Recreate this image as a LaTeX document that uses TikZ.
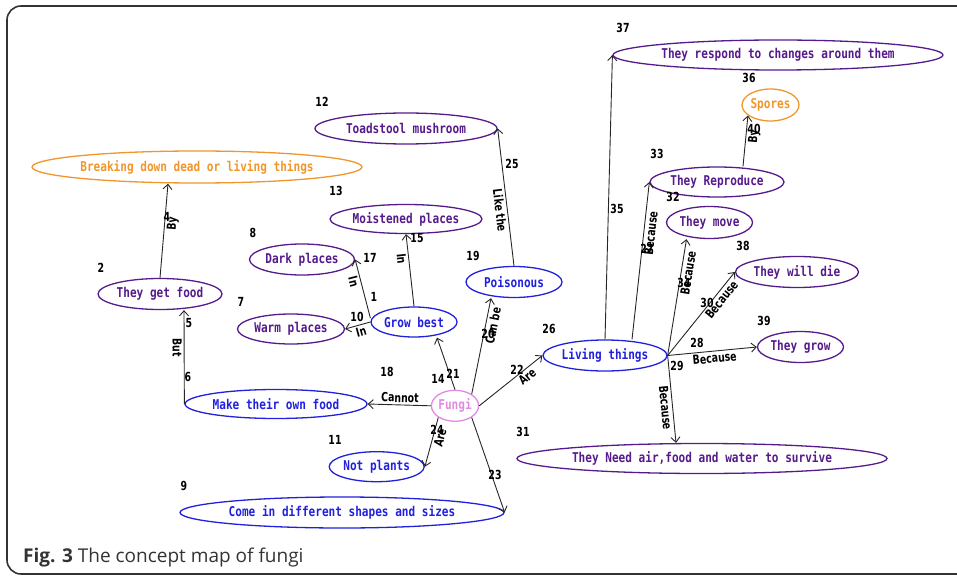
\documentclass[tikz,border=0pt]{standalone}
\usepackage{fontspec}
\usetikzlibrary{shapes.geometric,arrows.meta}
\newfontfamily\mapfont[FakeStretch=0.82]{DejaVu Sans Mono}
\newfontfamily\numfont[FakeStretch=0.75]{DejaVu Sans}
\newfontfamily\capfont{Open Sans}
\definecolor{cpurple}{HTML}{551A8B}
\definecolor{cblue}{HTML}{2020DD}
\definecolor{corange}{HTML}{F0962A}
\definecolor{cpink}{HTML}{E08AE0}
\definecolor{cframe}{HTML}{333333}
\begin{document}
\begin{tikzpicture}[x=1pt,y=-1pt,
  cnode/.style={ellipse, draw, line width=1.3pt, inner sep=0pt,
    font={\mapfont\bfseries\fontsize{13.5}{15}\selectfont}},
  pnode/.style={cnode, draw=cpurple, text=cpurple},
  bnode/.style={cnode, draw=cblue, text=cblue},
  onode/.style={cnode, draw=corange, text=corange},
  knode/.style={cnode, draw=cpink, text=cpink},
  num/.style={inner sep=0pt, text=black, font={\numfont\bfseries\fontsize{12.5}{14}\selectfont}},
  lab/.style={inner sep=2pt, sloped, text=black, font={\numfont\bfseries\fontsize{12.5}{14}\selectfont}},
  conn/.style={draw=black!85, line width=0.9pt, -{Straight Barb[length=5pt,width=9pt]}}]
\useasboundingbox (0,0) rectangle (957,577);
\begin{scope}
\clip (0,0) rectangle (957,577);
\draw[cframe, line width=1.6pt, rounded corners=14pt] (7,6) rectangle (980,574);
\end{scope}

% concept nodes
\node[onode, minimum width=327pt, minimum height=32pt] (breaking) at (197,167) {Breaking down dead or living things};
\node[pnode, minimum width=124pt, minimum height=31pt] (getfood) at (160,294) {They get food};
\node[pnode, minimum width=105pt, minimum height=31pt] (dark) at (302,259.5) {Dark places};
\node[pnode, minimum width=107pt, minimum height=30pt] (warm) at (291,329) {Warm places};
\node[pnode, minimum width=152pt, minimum height=29pt] (moist) at (406,219) {Moistened places};
\node[pnode, minimum width=182pt, minimum height=31pt] (toad) at (406,128.5) {Toadstool mushroom};
\node[bnode, minimum width=86pt, minimum height=30pt] (grow) at (414,322) {Grow best};
\node[bnode, minimum width=96pt, minimum height=31pt] (pois) at (514,282) {Poisonous};
\node[bnode, minimum width=124pt, minimum height=31pt] (living) at (605,355.5) {Living things};
\node[knode, minimum width=47pt, minimum height=31pt] (fungi) at (455,405.8) {Fungi};
\node[bnode, minimum width=182pt, minimum height=29pt] (make) at (276,404) {Make their own food};
\node[bnode, minimum width=95pt, minimum height=30pt] (notpl) at (376.7,466.7) {Not plants};
\node[bnode, minimum width=324pt, minimum height=31pt] (come) at (342,512.5) {Come in different shapes and sizes};
\node[pnode, minimum width=370pt, minimum height=30pt] (need) at (702,458.5) {They Need air,food and water to survive};
\node[pnode, minimum width=324pt, minimum height=30pt] (respond) at (778,55) {They respond to changes around them};
\node[onode, minimum width=57pt, minimum height=32pt] (spores) at (770.5,105) {Spores};
\node[pnode, minimum width=134pt, minimum height=30pt] (repro) at (717,182) {They Reproduce};
\node[pnode, minimum width=86pt, minimum height=32pt] (move) at (709.5,222.5) {They move};
\node[pnode, minimum width=123pt, minimum height=31pt] (die) at (797,272) {They will die};
\node[pnode, minimum width=86pt, minimum height=31pt] (grown) at (800.5,347) {They grow};

% connectors
\draw[conn] (getfood.north) -- node[lab, below, pos=0.58]{By} ([xshift=-29pt]breaking.south);
\draw[conn] (make.west) -- node[lab, below, pos=0.6]{But} ([xshift=24pt]getfood.south);
\draw[conn] ([yshift=4pt]grow.west) -- node[lab, below, pos=0.65]{In} (dark.east);
\draw[conn] (grow.west) -- node[lab, below, pos=0.44]{In} (warm.east);
\draw[conn] (grow.north) -- node[lab, below, pos=0.67]{In} (moist.south);
\draw[conn] (fungi.north) -- ([xshift=23pt]grow.south);
\draw[conn] (fungi.35) -- node[lab, below, pos=0.73]{Can be} ([xshift=-23pt]pois.south);
\draw[conn] (pois.north) -- node[lab, below, pos=0.41]{Like the} (toad.east);
\draw[conn] (fungi.east) -- node[lab, below, pos=0.69]{Are} (living.west);
\draw[conn] (fungi.west) -- node[lab, above, pos=0.49]{Cannot} (make.east);
\draw[conn] (fungi.215) -- node[lab, below, pos=0.37]{Are} (notpl.east);
\draw[conn] (fungi.325) -- (come.east);
\draw[conn] (living.north) -- (respond.west);
\draw[conn] ([xshift=27pt]living.north) -- node[lab, below, pos=0.68]{Because} (repro.west);
\draw[conn] (living.east) -- node[lab, below, pos=0.72]{Because} ([xshift=-23pt]move.south);
\draw[conn] (living.east) -- node[lab, below, pos=0.72]{Because} (die.west);
\draw[conn] (living.east) -- node[lab, below, pos=0.52]{Because} (grown.west);
\draw[conn] (living.east) -- node[lab, below, pos=0.59]{Because} ([xshift=-26pt]need.north);
\draw[conn] ([xshift=26pt]repro.north) -- node[lab, below, pos=0.6]{By} (spores.205);

% concept numbers
\node[num] (k2) at (101,268) {2};
\node[num] (k8) at (253,233) {8};
\node[num] (k7) at (241,302) {7};
\node[num] (k13) at (336,191) {13};
\node[num] (k12) at (322,102) {12};
\node[num] (k1) at (374,297) {1};
\node[num] (k19) at (473,256) {19};
\node[num] (k26) at (549,329) {26};
\node[num] (k14) at (438,379) {14};
\node[num] (k6) at (188,377) {6};
\node[num] (k11) at (335,440) {11};
\node[num] (k9) at (184,486) {9};
\node[num] (k31) at (523,432) {31};
\node[num] (k37) at (623,28) {37};
\node[num] (k36) at (749,78) {36};
\node[num] (k33) at (657,154) {33};
\node[num] (k32) at (673,197) {32};
\node[num] (k38) at (743,246) {38};
\node[num] (k39) at (764,321) {39};
% link numbers
\node[num] (l4) at (167,217) {4};
\node[num] (l5) at (189,323) {5};
\node[num] (l17) at (370,258) {17};
\node[num] (l10) at (357,317) {10};
\node[num] (l15) at (417,238) {15};
\node[num] (l21) at (453,374) {21};
\node[num] (l20) at (488,334) {20};
\node[num] (l25) at (512,164) {25};
\node[num] (l22) at (517,370) {22};
\node[num] (l18) at (387,372) {18};
\node[num] (l24) at (437,430) {24};
\node[num] (l23) at (495,475) {23};
\node[num] (l35) at (617,209) {35};
\node[num] (l27) at (647,249) {27};
\node[num] (l34) at (684,283) {34};
\node[num] (l30) at (707,303) {30};
\node[num] (l28) at (697,343) {28};
\node[num] (l29) at (677,366) {29};
\node[num] (l40) at (754,129) {40};

% caption
\node[anchor=base west, inner sep=0pt, text=black!80, font={\capfont\fontsize{19}{22}\selectfont}] (cap) at (23,562) {\textbf{Fig. 3} The concept map of fungi};
\end{tikzpicture}
\end{document}
